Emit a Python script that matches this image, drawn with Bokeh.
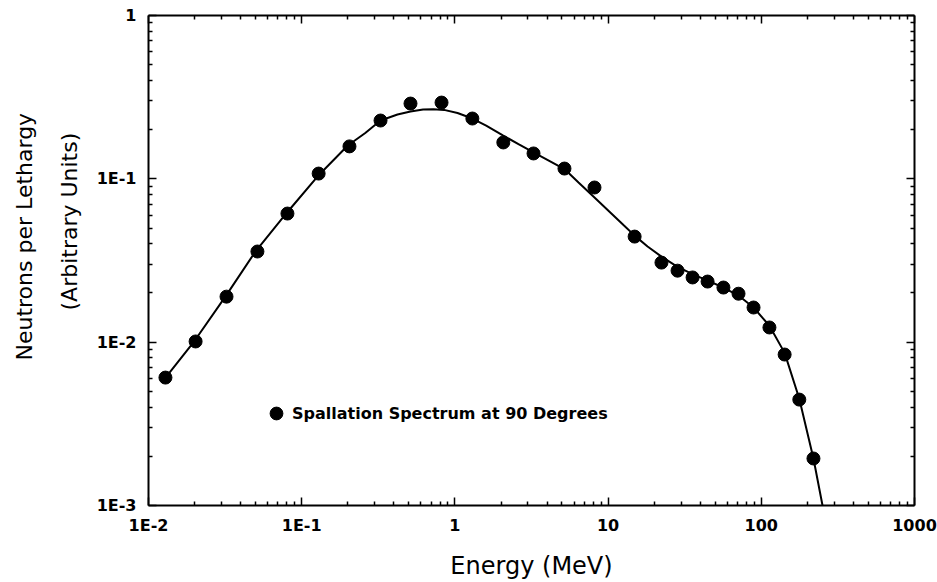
import numpy as np
from bokeh.plotting import figure
from bokeh.models import LogAxis, FixedTicker, CustomJSTickFormatter, Title, Legend, LegendItem, Range1d
from bokeh.embed import file_html
from bokeh.resources import INLINE

# measured spectrum points (MeV, neutrons per lethargy)
point_energy = [0.0129, 0.0203, 0.0323, 0.0514, 0.0807, 0.129, 0.205, 0.327, 0.513, 0.818,
                1.30, 2.07, 3.26, 5.19, 8.15, 14.9, 22.3, 28.4, 35.6, 44.6, 56.6, 71.0,
                89.0, 113, 142, 177, 219]
point_flux = [0.00607, 0.0101, 0.0190, 0.0359, 0.0613, 0.1077, 0.158, 0.2275, 0.289, 0.293,
              0.234, 0.167, 0.143, 0.1156, 0.0885, 0.0443, 0.0307, 0.0274, 0.0249, 0.0235,
              0.0216, 0.0198, 0.0163, 0.0123, 0.0084, 0.00445, 0.00194]

# fitted curve
curve_energy = [0.013, 0.02, 0.032, 0.05, 0.08, 0.13, 0.2, 0.26, 0.327, 0.422, 0.513, 0.62,
                0.724, 0.85, 1.04, 1.3, 1.6, 2.07, 2.6, 3.26, 4.1, 5.19, 6.41, 8.15, 10.5,
                12.6, 14.9, 18.1, 22.3, 28.4, 35.6, 44.6, 56.6, 71, 89, 113, 142, 177, 219, 251]
curve_flux = [0.0061, 0.0102, 0.0192, 0.036, 0.062, 0.106, 0.160, 0.1908, 0.2275, 0.2475,
              0.2583, 0.266, 0.2668, 0.2643, 0.253, 0.234, 0.212, 0.184, 0.163, 0.145, 0.1294,
              0.1148, 0.0949, 0.0768, 0.0613, 0.0521, 0.0449, 0.0385, 0.0334, 0.0289, 0.0261,
              0.0238, 0.0216, 0.0193, 0.0163, 0.0126, 0.0086, 0.0045, 0.00194, 0.001]

x_decades = [0.01, 0.1, 1, 10, 100, 1000]
y_decades = [0.001, 0.01, 0.1, 1]
legend_text = "Spallation Spectrum at 90 Degrees"
x_title = "Energy (MeV)"
y_title_1 = "Neutrons per Lethargy"
y_title_2 = "(Arbitrary Units)"

FONT = "DejaVu Sans"


def minor(decs):
    return [k * d for d in decs[:-1] for k in range(2, 10)]


p = figure(x_axis_type="log", y_axis_type="log",
           x_range=Range1d(x_decades[0], x_decades[-1]),
           y_range=Range1d(y_decades[0], y_decades[-1]),
           frame_width=766, frame_height=490,
           min_border_left=148, min_border_right=23, min_border_top=15, min_border_bottom=60,
           output_backend="svg", toolbar_location=None)
p.background_fill_color = "white"
p.border_fill_color = "white"
p.outline_line_color = None
p.xgrid.visible = False
p.ygrid.visible = False

label_fmt = CustomJSTickFormatter(code="""
const e = Math.round(Math.log10(tick));
if (e < 0) { return '1E-' + (-e); }
return String(Math.round(Math.pow(10, e)));
""")
blank_fmt = CustomJSTickFormatter(code="return '';")

xt = FixedTicker(ticks=x_decades, minor_ticks=minor(x_decades))
yt = FixedTicker(ticks=y_decades, minor_ticks=minor(y_decades))


def style(ax, ticker, fmt, labelled):
    ax.ticker = ticker
    ax.formatter = fmt
    ax.axis_line_width = 2
    ax.axis_line_color = "black"
    ax.major_tick_in = 8
    ax.major_tick_out = 0
    ax.minor_tick_in = 4
    ax.minor_tick_out = 0
    ax.major_tick_line_width = 1.5
    ax.minor_tick_line_width = 1.5
    ax.major_label_text_font = FONT
    ax.major_label_text_font_style = "bold"
    ax.major_label_text_font_size = "16px"
    ax.major_label_text_color = "black"
    if not labelled:
        ax.major_label_standoff = 0


xa = p.xaxis[0]
style(xa, xt, label_fmt, True)
xa.major_label_standoff = 10
xa.axis_label = x_title
xa.axis_label_text_font = FONT
xa.axis_label_text_font_style = "normal"
xa.axis_label_text_font_size = "24px"
xa.axis_label_text_color = "black"
xa.axis_label_standoff = 14

ya = p.yaxis[0]
style(ya, yt, label_fmt, True)
ya.major_label_standoff = 12

top = LogAxis()
style(top, xt, blank_fmt, False)
p.add_layout(top, "above")
right = LogAxis()
style(right, yt, blank_fmt, False)
p.add_layout(right, "right")

p.line(curve_energy, curve_flux, line_color="black", line_width=2)
pts = p.scatter(point_energy, point_flux, size=13, marker="circle",
                fill_color="black", line_color="black")

legend = Legend(items=[LegendItem(label=legend_text, renderers=[pts])],
                location=(112, 76), padding=0, margin=0, spacing=0,
                glyph_width=32, glyph_height=32, label_standoff=0,
                border_line_alpha=0, background_fill_alpha=0,
                label_text_font=FONT, label_text_font_style="bold",
                label_text_font_size="16px", label_text_color="black")
p.add_layout(legend, "center")

# y-axis title: two lines, placed outward from the axis
t2 = Title(text=y_title_2, align="left", offset=195, standoff=22, vertical_align="middle",
           text_font=FONT, text_font_style="normal", text_font_size="22px", text_color="black")
t1 = Title(text=y_title_1, align="left", offset=145, standoff=14, vertical_align="middle",
           text_font=FONT, text_font_style="normal", text_font_size="22px", text_color="black")
p.add_layout(t2, "left")
p.add_layout(t1, "left")

open("out.html", "w").write(file_html(p, INLINE))
